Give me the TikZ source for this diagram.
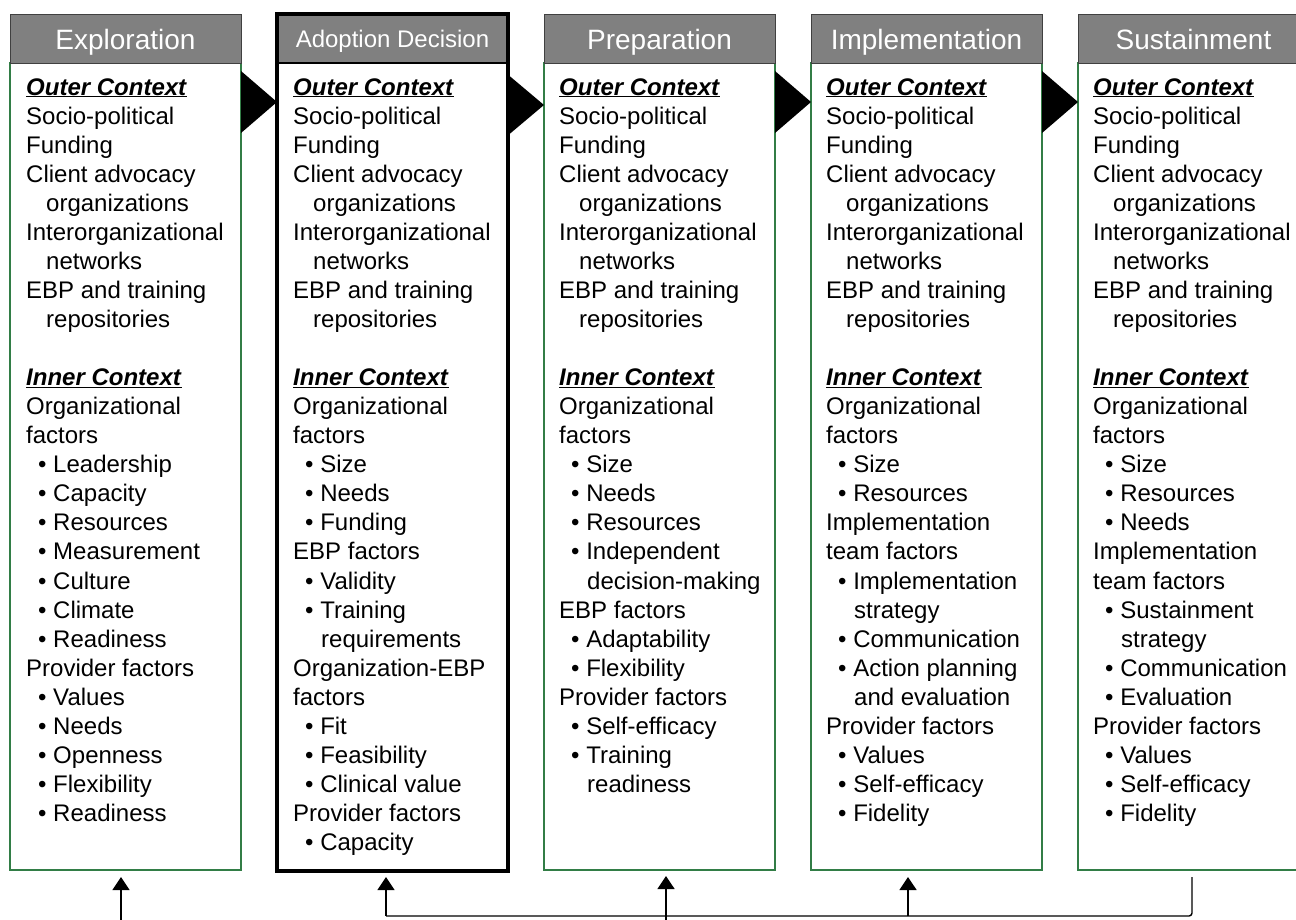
\documentclass[tikz,border=0pt]{standalone}
\usepackage{fontspec}
\setmainfont{Liberation Sans}
\usetikzlibrary{arrows.meta,calc}
\definecolor{hdrgray}{RGB}{128,128,128}
\definecolor{hdredge}{RGB}{64,64,64}
\definecolor{boxgreen}{RGB}{50,125,70}
\newcommand\myind{\hspace*{20pt}}
\newcommand\mybul{\hspace*{12pt}\textbullet\ }
\newcommand\mybind{\hspace*{28pt}}
\newcommand\myhd[1]{\underline{\textbf{\textit{#1}}}}
\newcommand\myouter{\myhd{Outer Context}\\
Socio-political\\
Funding\\
Client advocacy\\
\myind organizations\\
Interorganizational\\
\myind networks\\
EBP and training\\
\myind repositories\\
\\
\myhd{Inner Context}\\}
\tikzset{
  hdr/.style={draw=hdredge, line width=1pt, fill=hdrgray, text=white, anchor=north west, outer sep=0pt,
    minimum width=231pt, minimum height=49pt, inner sep=0pt, text height=26pt, text depth=4pt,
    font=\fontsize{28}{34}\selectfont},
  bodybox/.style={draw=boxgreen, line width=1.2pt, fill=white, anchor=north west, outer sep=0pt,
    minimum width=231pt, minimum height=807pt, inner sep=0pt},
  txt/.style={anchor=base west, inner sep=0pt, align=left, font=\fontsize{24}{29.06}\selectfont},
  tri/.style={fill=black},
  arr/.style={draw=black, line width=1.4pt, -{Triangle[width=17pt,length=13pt]}},
  fbline/.style={draw=black, line width=1.4pt, rounded corners=3pt}
}
\begin{document}
\begin{tikzpicture}[x=1pt,y=-1pt]
\fill[white] (0,0) rectangle (1296,919);
\useasboundingbox (0,0) rectangle (1296,919);
\begin{scope}
\clip (0,0) rectangle (1296,919);
% column 1
\node[bodybox] (b1) at (10,63) {};
\node[hdr] (h1) at (10,14) {Exploration};
% column 2
\node[bodybox, draw=black, line width=4pt, minimum height=857pt] (b2) at (277,14) {};
\node[hdr, draw=black, line width=2.5pt, fill=hdrgray, text height=22pt, text depth=4pt,
  font=\fontsize{24}{29}\selectfont] (h2) at (277,14) {Adoption Decision};
\draw[line width=4pt] (b2.north west) rectangle (b2.south east);
% column 3
\node[bodybox] (b3) at (544,63) {};
\node[hdr] (h3) at (544,14) {Preparation};
% column 4
\node[bodybox] (b4) at (811,63) {};
\node[hdr] (h4) at (811,14) {Implementation};
% column 5
\node[bodybox] (b5) at (1078,63) {};
\node[hdr] (h5) at (1078,14) {Sustainment};

% triangles
\fill[tri] ($(b1.north east)+(0,8)$) -- ($(b1.north east)+(0,70)$) -- ($(b1.north east)+(36,39)$) -- cycle;
\fill[tri] ($(b2.north east)+(-2,59)$) -- ($(b2.north east)+(-2,123)$) -- ($(b2.north east)+(36,91)$) -- cycle;
\fill[tri] ($(b3.north east)+(0,8)$) -- ($(b3.north east)+(0,70)$) -- ($(b3.north east)+(36,39)$) -- cycle;
\fill[tri] ($(b4.north east)+(0,8)$) -- ($(b4.north east)+(0,70)$) -- ($(b4.north east)+(36,39)$) -- cycle;

% texts
\node[txt] (t1) at (26,95) {\begin{tabular}[t]{@{}l@{}}\myouter
Organizational\\
factors\\
\mybul Leadership\\
\mybul Capacity\\
\mybul Resources\\
\mybul Measurement\\
\mybul Culture\\
\mybul Climate\\
\mybul Readiness\\
Provider factors\\
\mybul Values\\
\mybul Needs\\
\mybul Openness\\
\mybul Flexibility\\
\mybul Readiness
\end{tabular}};

\node[txt] (t2) at (293,95) {\begin{tabular}[t]{@{}l@{}}\myouter
Organizational\\
factors\\
\mybul Size\\
\mybul Needs\\
\mybul Funding\\
EBP factors\\
\mybul Validity\\
\mybul Training\\
\mybind requirements\\
Organization-EBP\\
factors\\
\mybul Fit\\
\mybul Feasibility\\
\mybul Clinical value\\
Provider factors\\
\mybul Capacity
\end{tabular}};

\node[txt] (t3) at (559,95) {\begin{tabular}[t]{@{}l@{}}\myouter
Organizational\\
factors\\
\mybul Size\\
\mybul Needs\\
\mybul Resources\\
\mybul Independent\\
\mybind decision-making\\
EBP factors\\
\mybul Adaptability\\
\mybul Flexibility\\
Provider factors\\
\mybul Self-efficacy\\
\mybul Training\\
\mybind readiness
\end{tabular}};

\node[txt] (t4) at (826,95) {\begin{tabular}[t]{@{}l@{}}\myouter
Organizational\\
factors\\
\mybul Size\\
\mybul Resources\\
Implementation\\
team factors\\
\mybul Implementation\\
\mybind strategy\\
\mybul Communication\\
\mybul Action planning\\
\mybind and evaluation\\
Provider factors\\
\mybul Values\\
\mybul Self-efficacy\\
\mybul Fidelity
\end{tabular}};

\node[txt] (t5) at (1093,95) {\begin{tabular}[t]{@{}l@{}}\myouter
Organizational\\
factors\\
\mybul Size\\
\mybul Resources\\
\mybul Needs\\
Implementation\\
team factors\\
\mybul Sustainment\\
\mybind strategy\\
\mybul Communication\\
\mybul Evaluation\\
Provider factors\\
\mybul Values\\
\mybul Self-efficacy\\
\mybul Fidelity
\end{tabular}};

% bottom connectors
\coordinate (x1) at (121,925);
\coordinate (x2) at (386,916);
\coordinate (x3) at (666,925);
\coordinate (x4) at (908,916);
\coordinate (fb) at (1192,916);
\draw[arr, shorten >=7pt] (x1) -- (x1 |- b1.south);
\draw[arr, shorten >=6pt] (x3) -- (x3 |- b3.south);
\draw[fbline, shorten <=7pt] (fb |- b5.south) -- (fb) -- (x2);
\draw[arr, rounded corners=3pt, shorten >=6pt] (x2) -- (x2 |- b2.south);
\draw[arr, rounded corners=3pt, shorten >=7pt] (x4) -- (x4 |- b4.south);
\end{scope}
\end{tikzpicture}
\end{document}
